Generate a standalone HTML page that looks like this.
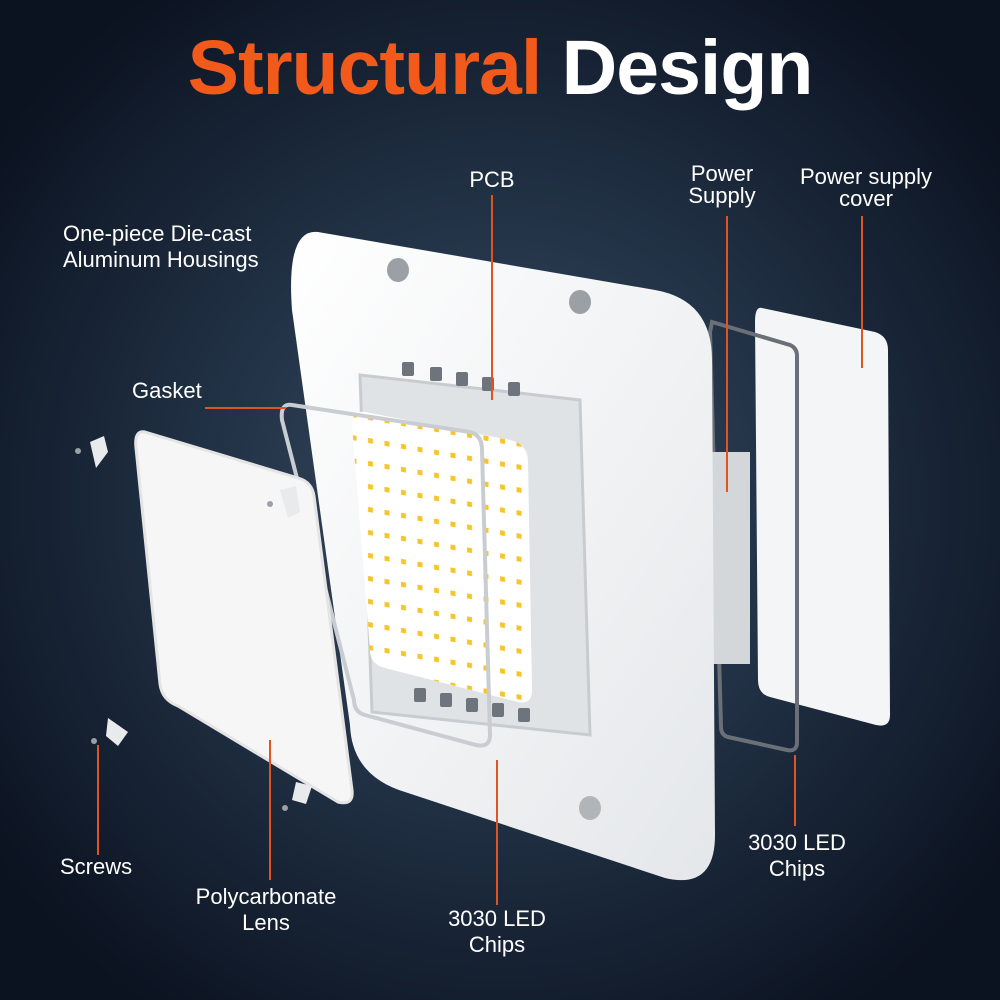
<!DOCTYPE html>
<html><head><meta charset="utf-8"><style>
html,body{margin:0;padding:0}
body{width:1000px;height:1000px;overflow:hidden;background:radial-gradient(ellipse 620px 620px at 500px 500px,#3a4d64 0%,#1e2d40 55%,#0b1220 100%);font-family:"Liberation Sans",sans-serif;position:relative}
.t{position:absolute;color:#fff;font-size:22px;line-height:26px;white-space:nowrap}
.c{text-align:center;transform:translateX(-50%)}
h1{position:absolute;left:0;width:1000px;top:24px;margin:0;text-align:center;font-size:77px;font-weight:bold;letter-spacing:-1px;color:#fff}
h1 span{color:#f25a1c}
svg{position:absolute;left:0;top:0}
</style></head><body>
<h1><span>Structural</span> Design</h1>
<svg width="1000" height="1000" viewBox="0 0 1000 1000">
<defs>
<pattern id="dots" width="16.5" height="23" patternUnits="userSpaceOnUse" patternTransform="skewY(10)">
<rect x="5" y="5" width="5" height="5" fill="#f5c52a"/>
</pattern>
<linearGradient id="hg" x1="0" y1="0" x2="1" y2="1"><stop offset="0" stop-color="#ffffff"/><stop offset="1" stop-color="#e4e7ea"/></linearGradient>
</defs>
<path d="M762,308 L875,332 Q888,336 888,350 L890,715 Q890,728 876,725 L770,697 Q758,694 758,680 L755,322 Q755,306 762,308Z" fill="#f4f5f6"/>
<path d="M712,322 L790,345 Q797,348 797,356 L797,742 Q797,752 787,750 L728,737 Q721,735 721,727 L710,332Z" fill="none" stroke="#6b7078" stroke-width="4"/>
<rect x="708" y="452" width="42" height="212" fill="#d4d7da"/>
<path d="M318,232 L655,290 Q712,300 712,360 L715,835 Q715,890 665,878 L405,792 Q352,776 350,725 L292,310 Q286,228 318,232Z" fill="url(#hg)"/>
<ellipse cx="398" cy="270" rx="11" ry="12" fill="#9aa0a6"/>
<ellipse cx="580" cy="302" rx="11" ry="12" fill="#9aa0a6"/>
<ellipse cx="590" cy="808" rx="11" ry="12" fill="#b0b5ba"/>
<path d="M360,375 L580,400 L590,735 L372,712Z" fill="#e0e3e6" stroke="#c8ccd0" stroke-width="3"/>
<g fill="#6e747c"><rect x="402" y="362" width="12" height="14" rx="2"/><rect x="430" y="367" width="12" height="14" rx="2"/><rect x="456" y="372" width="12" height="14" rx="2"/><rect x="482" y="377" width="12" height="14" rx="2"/><rect x="508" y="382" width="12" height="14" rx="2"/>
<rect x="414" y="688" width="12" height="14" rx="2"/><rect x="440" y="693" width="12" height="14" rx="2"/><rect x="466" y="698" width="12" height="14" rx="2"/><rect x="492" y="703" width="12" height="14" rx="2"/><rect x="518" y="708" width="12" height="14" rx="2"/></g>
<path d="M365,412 L510,440 Q528,444 528,462 L532,690 Q532,705 518,702 L385,668 Q370,664 370,650 L352,425 Q352,410 365,412Z" fill="#fff"/>
<path d="M365,412 L510,440 Q528,444 528,462 L532,690 Q532,705 518,702 L385,668 Q370,664 370,650 L352,425 Q352,410 365,412Z" fill="url(#dots)"/>
<path d="M292,405 L470,432 Q482,435 482,450 L490,735 Q490,748 476,745 L365,715 Q354,712 354,700 L282,420 Q280,403 292,405Z" fill="none" stroke="#c9cdd2" stroke-width="4"/>
<path d="M145,432 L298,478 Q312,482 314,496 L352,790 Q354,806 338,802 L178,706 Q162,700 160,684 L136,448 Q134,430 145,432Z" fill="#f6f6f6" stroke="#e4e4e4" stroke-width="3"/>
<g fill="#e8eaec"><path d="M90,442 L104,436 L108,452 L96,468Z"/><path d="M108,718 L128,732 L118,746 L106,736Z"/><path d="M280,490 L296,486 L300,512 L288,518Z"/><path d="M296,782 L312,786 L306,804 L292,800Z"/></g>
<g fill="#9aa0a6"><circle cx="78" cy="451" r="3"/><circle cx="94" cy="741" r="3"/><circle cx="270" cy="504" r="3"/><circle cx="285" cy="808" r="3"/></g>
<g stroke="#e0541f" stroke-width="2" fill="none">
<line x1="492" y1="195" x2="492" y2="400"/>
<line x1="727" y1="216" x2="727" y2="492"/>
<line x1="862" y1="216" x2="862" y2="368"/>
<line x1="205" y1="408" x2="286" y2="408"/>
<line x1="98" y1="745" x2="98" y2="855"/>
<line x1="270" y1="740" x2="270" y2="880"/>
<line x1="497" y1="760" x2="497" y2="905"/>
<line x1="795" y1="755" x2="795" y2="826"/>
</g>
</svg>
<div class="t c" style="left:492px;top:167px">PCB</div>
<div class="t c" style="left:722px;top:163px;line-height:22px">Power<br>Supply</div>
<div class="t c" style="left:866px;top:166px;line-height:22px">Power supply<br>cover</div>
<div class="t" style="left:63px;top:221px">One-piece Die-cast<br>Aluminum Housings</div>
<div class="t" style="left:132px;top:378px">Gasket</div>
<div class="t" style="left:60px;top:854px">Screws</div>
<div class="t c" style="left:266px;top:884px">Polycarbonate<br>Lens</div>
<div class="t c" style="left:497px;top:906px">3030 LED<br>Chips</div>
<div class="t c" style="left:797px;top:830px">3030 LED<br>Chips</div>
</body></html>
